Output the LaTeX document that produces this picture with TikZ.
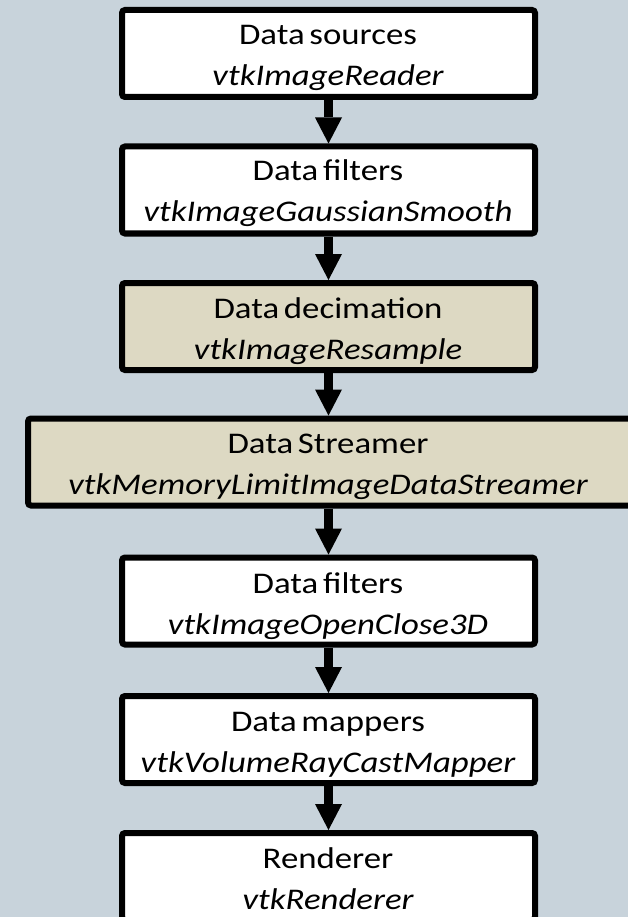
\documentclass[tikz,border=0pt]{standalone}
\usepackage{fontspec}
\setmainfont{Carlito}[WordSpace=0.6, FakeStretch=1.16]
\usetikzlibrary{arrows.meta}
\definecolor{bgc}{RGB}{200,211,219}
\definecolor{tanc}{RGB}{221,217,195}
\begin{document}
\begin{tikzpicture}[x=1pt,y=-1pt,
  box/.style={draw=black, line width=6pt, rounded corners=3pt, minimum height=87pt, minimum width=413pt, inner sep=0pt, fill=white},
  tanbox/.style={box, fill=tanc},
  txt/.style={anchor=base, inner sep=0pt, font=\fontsize{30}{36}\selectfont},
  itxt/.style={txt, font=\fontsize{30}{36}\selectfont\itshape},
  arr/.style={line width=9pt, -{Triangle[width=27pt,length=26pt,line width=0pt]}}
]
\useasboundingbox (0,0) rectangle (628,917);
\fill[bgc] (0,0) rectangle (628,917);

\node[box]    (b1) at (328.5,53.5) {};
\node[box]    (b2) at (328.5,190) {};
\node[tanbox] (b3) at (328.5,326.5) {};
\node[tanbox, minimum width=612pt] (b4) at (334,462) {};
\node[box]    (b5) at (328.5,601) {};
\node[box]    (b6) at (328.5,739.5) {};
\node[box]    (b7) at (328.5,876.5) {};

\node[txt]  (t1a) at (328,45)  {Data sources};
\node[itxt] (t1b) at (328,86)  {vtkImageReader};
\node[txt]  (t2a) at (328,181) {Data filters};
\node[itxt] (t2b) at (328,222) {vtkImageGaussianSmooth};
\node[txt]  (t3a) at (328,318) {Data decimation};
\node[itxt] (t3b) at (328,359) {vtkImageResample};
\node[txt]  (t4a) at (328,453) {Data Streamer};
\node[itxt] (t4b) at (328,494) {vtkMemoryLimitImageDataStreamer};
\node[txt]  (t5a) at (328,593) {Data filters};
\node[itxt] (t5b) at (328,634) {vtkImageOpenClose3D};
\node[txt]  (t6a) at (328,731) {Data mappers};
\node[itxt] (t6b) at (328,772) {vtkVolumeRayCastMapper};
\node[txt]  (t7a) at (328,868) {Renderer};
\node[itxt] (t7b) at (328,909) {vtkRenderer};

\draw[arr] (b1.south) -- (b2.north);
\draw[arr] (b2.south) -- (b3.north);
\draw[arr] (b3.south) -- (b3.south |- b4.north);
\draw[arr] (b3.south |- b4.south) -- (b5.north);
\draw[arr] (b5.south) -- (b6.north);
\draw[arr] (b6.south) -- (b7.north);
\end{tikzpicture}
\end{document}
